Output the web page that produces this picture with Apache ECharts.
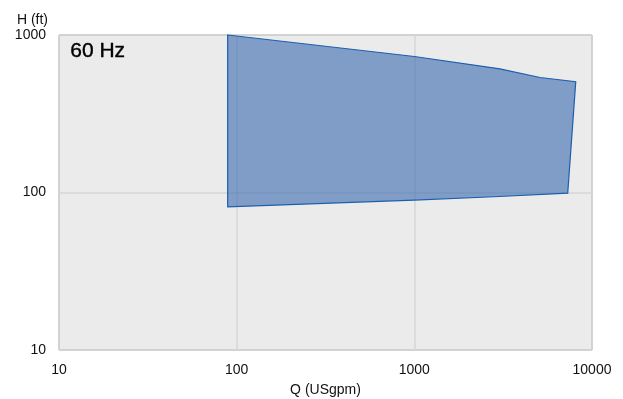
<!DOCTYPE html>
<html><head><meta charset="utf-8">
<script src="https://cdn.jsdelivr.net/npm/echarts@6/dist/echarts.min.js"></script>
<style>html,body{margin:0;padding:0;background:#fff}#c{width:623px;height:399px}</style>
</head><body><div id="c"></div>
<script>
// Operating envelope polygon (Q in USgpm, H in ft), clockwise from top-left
const polyQ = [89, 1000, 3030, 5100, 8100, 7300, 2800, 1000, 89];
const polyH = [1000, 730, 610, 537, 505, 99, 94, 89.5, 81];
const xTicks = [10, 100, 1000, 10000];
const yTicks = [10, 100, 1000];
const freqLabel = '60 Hz';
const xName = 'Q (USgpm)';
const yName = 'H (ft)';

const pts = polyQ.map((q, i) => [q, polyH[i]]);
const font = 'Liberation Sans, Arial, Helvetica, sans-serif';
const chart = echarts.init(document.getElementById('c'), null, {renderer: 'canvas'});
chart.setOption({
  animation: false,
  backgroundColor: '#fff',
  grid: {left: 59, right: 31, top: 35, bottom: 49, outerBoundsMode: 'none', containLabel: false,
         show: true, backgroundColor: '#ebebeb', borderColor: '#9a9a9a', borderWidth: 1},
  xAxis: {
    type: 'log', logBase: 10, min: xTicks[0], max: xTicks[xTicks.length - 1],
    name: xName, nameLocation: 'middle', nameGap: 33,
    nameTextStyle: {fontFamily: font, fontSize: 14, color: '#111'},
    axisLine: {show: false}, axisTick: {show: false},
    axisLabel: {fontFamily: font, fontSize: 14, color: '#111', margin: 13, formatter: v => String(v)},
    splitLine: {show: true, lineStyle: {color: '#d6d6d6', width: 1.5}}
  },
  yAxis: {
    type: 'log', logBase: 10, min: yTicks[0], max: yTicks[yTicks.length - 1],
    name: yName, nameLocation: 'end', nameGap: 8,
    nameTextStyle: {fontFamily: font, fontSize: 14, color: '#111', align: 'right', padding: [0, 11, 0, 0]},
    axisLine: {show: false}, axisTick: {show: false},
    axisLabel: {fontFamily: font, fontSize: 14, color: '#111', margin: 13, formatter: v => String(v)},
    splitLine: {show: true, lineStyle: {color: '#d6d6d6', width: 1.5}}
  },
  graphic: [{
    type: 'text', left: 70, top: 41,
    style: {text: freqLabel, font: '21px ' + font, fill: '#000', stroke: '#000', lineWidth: 0.4}
  }],
  series: [{
    type: 'custom',
    coordinateSystem: 'cartesian2d',
    data: [0],
    renderItem: function (params, api) {
      const points = pts.map(p => api.coord(p));
      return {
        type: 'polygon',
        shape: {points: points},
        style: {fill: 'rgba(57,105,177,0.6)', stroke: '#1a5fae', lineWidth: 1.2}
      };
    }
  }]
});
</script></body></html>
